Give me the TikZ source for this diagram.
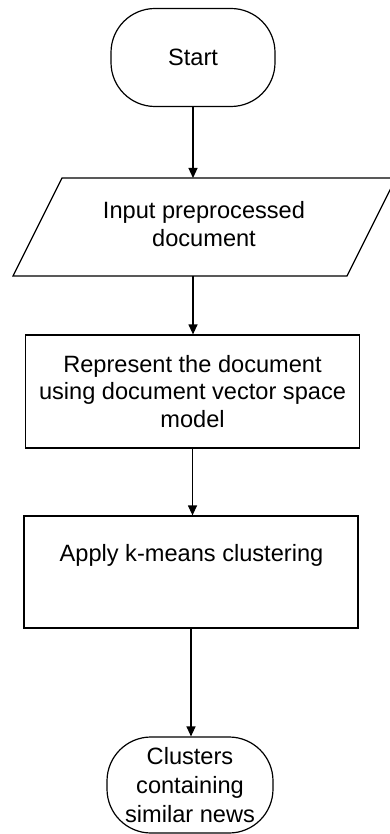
\documentclass[tikz,border=0pt]{standalone}
\usepackage{fontspec}
\setmainfont{Liberation Sans}
\usetikzlibrary{arrows.meta,positioning}

\tikzset{
	term/.style={draw, rounded corners=22pt, minimum width=82pt, minimum height=49pt, align=center, inner sep=1pt},
	procbox/.style={draw, minimum width=167pt, minimum height=56.5pt, align=center, inner sep=1pt},
	flow/.style={-{Triangle[length=5pt,width=4.5pt]}},
}

\begin{document}
\begin{tikzpicture}[x=0.5pt, y=-0.5pt, line width=0.6pt, font=\fontsize{11.8}{13.6}\selectfont]
		\useasboundingbox (0,0) rectangle (390,834);
		\node[term] (start) at (193,57.5) {Start};
		\coordinate (in-top) at (193,178);
		\coordinate (in-bot) at (193,276);
		\draw (62,178) -- (396,178) -- (347,276) -- (13,276) -- cycle;
		\node[align=center, font=\fontsize{11.8}{14}\selectfont] (input) at (204,224) {Input preprocessed\\document};
		\node[procbox] (repr) at (192.5,391.5) {Represent the document\\using document vector space\\model};
		\node[procbox, minimum height=56pt] (kmeans) at (191,572) {};
		\node (kmtext) at (191.5,555) {Apply k-means clustering};
		\node[term, minimum width=83pt, minimum height=48pt, font=\fontsize{11.8}{14.5}\selectfont] (stop) at (190,785) {Clusters\\containing\\similar news};
		\draw[flow] (start) -- (in-top);
		\draw[flow] (in-bot) -- (in-bot |- repr.north);
		\draw[flow] (repr.south) -- (repr.south |- kmeans.north);
		\draw[flow] (kmeans.south) -- (kmeans.south |- stop.north);
	\end{tikzpicture}
\end{document}
